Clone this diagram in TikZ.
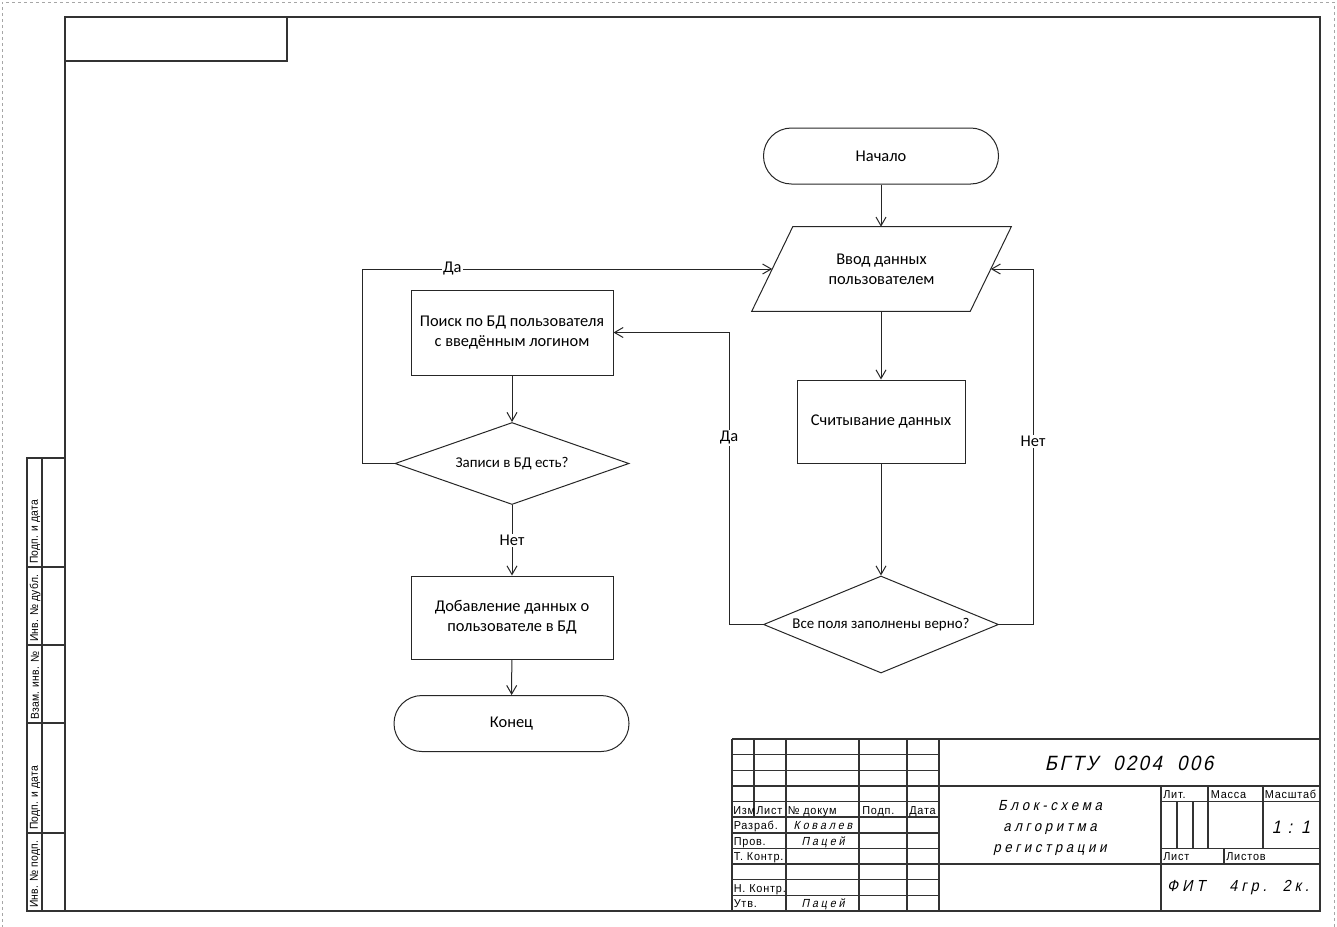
\documentclass[tikz,border=0pt]{standalone}
\usepackage{fontspec}
\setmainfont{Carlito}
% drafting fonts for the title block and the binding strip
\newfontfamily\gostfont[FakeStretch=0.95,LetterSpace=7]{Liberation Sans}
\newfontfamily\goststrip[FakeStretch=0.9,LetterSpace=2]{Liberation Sans}
\newfontfamily\gostital[FakeStretch=0.9,FakeSlant=0.22,LetterSpace=25]{Liberation Sans}
\newfontfamily\gostwide[FakeStretch=0.9,FakeSlant=0.22,LetterSpace=12]{Liberation Sans}
\usetikzlibrary{shapes.geometric,arrows.meta,calc}

\tikzset{
  sheet/.style={draw=black!35, line width=0.5pt, dash pattern=on 2.5pt off 2pt},
  frame/.style={draw=black!80, line width=1.3pt},
  grid/.style={draw=black!80, line width=1.1pt},
  line/.style={draw=black!85, line width=0.75pt},
  arr/.style={line, -{Straight Barb[length=6.5pt,width=7.5pt]}},
  fc/.style={font=\fontsize{12.3}{15}\selectfont, align=center, text=black},
  term/.style={fc, line, rectangle, rounded corners=20.9pt,
    minimum width=235*0.75pt, minimum height=56*0.75pt},
  proc/.style={fc, line, rectangle, inner sep=0pt},
  % body of the input block; its slanted outline is drawn from the anchors
  iobody/.style={fc, rectangle, inner sep=0pt, minimum width=218*0.75pt, minimum height=84*0.75pt},
  decision/.style={line, diamond, aspect=2.4, inner sep=0pt, align=center,
    font=\fontsize{11.2}{12}\selectfont},
  lbl/.style={fill=white, inner sep=1pt, font=\fontsize{12.3}{14}\selectfont},
  tb/.style={inner sep=0pt, font=\gostfont\fontsize{8.6}{10}\selectfont},
  strip/.style={inner sep=0pt, rotate=90, anchor=west, font=\goststrip\fontsize{8.6}{10}\selectfont},
  tbi/.style={inner sep=0pt, font=\gostital\fontsize{8.8}{10}\selectfont},
}

\begin{document}
\begin{tikzpicture}[x=0.75pt,y=-0.75pt]
\useasboundingbox (0,0) rectangle (1337,926);

% trimmed sheet edge
\draw[sheet] (2,940) -- (2,2) -- (1334,2) -- (1334,940);

% drawing frame and top-left stamp box
\draw[frame] (65,17) rectangle (1320,911);
\draw[frame] (65,61) -- (287,61) -- (287,17);

% binding strip on the left
\draw[grid] (65,458) -- (27,458) -- (27,911) -- (65,911);
\draw[grid] (42,458) -- (42,911);
\foreach \yy in {567,645,723,833} \draw[grid] (27,\yy) -- (65,\yy);
\node[strip] (s1) at (35,564) {Подп. и дата};
\node[strip] (s2) at (35,642) {Инв. № дубл.};
\node[strip] (s3) at (35,720) {Взам. инв. №};
\node[strip] (s4) at (35,830) {Подп. и дата};
\node[strip] (s5) at (35,908) {Инв. № подп.};

% ---------------- flowchart ----------------
\node[term] (start) at (881,156) {Начало};
\node[iobody] (input) at (881.5,269) {Ввод данных\\пользователем};
\draw[line] ([xshift=-20.5*0.75pt]input.south west) -- ([xshift=20.5*0.75pt]input.north west)
  -- ([xshift=20.5*0.75pt]input.north east) -- ([xshift=-20.5*0.75pt]input.south east) -- cycle;
\node[proc, minimum width=168*0.75pt, minimum height=83*0.75pt] (read) at (881,421.5) {Считывание данных};
\node[decision, minimum width=235*0.75pt, minimum height=97*0.75pt] (valid) at (881,624.5) {Все поля заполнены верно?};

\node[proc, minimum width=202*0.75pt, minimum height=85*0.75pt] (search) at (512,332.5) {Поиск по БД пользователя\\с введённым логином};
\node[decision, minimum width=234*0.75pt, minimum height=82*0.75pt] (exists) at (512,463.5) {Записи в БД есть?};
\node[proc, minimum width=202*0.75pt, minimum height=83*0.75pt] (add) at (512,617.5) {Добавление данных о\\пользователе в БД};
\node[term] (stop) at (511.5,723.5) {Конец};

\coordinate (yesR) at (729,624.5);
\coordinate (noR) at (1033,624.5);
\coordinate (yesL) at (362,463.5);

\draw[arr] (start.south) -- (start.south |- input.north);
\draw[arr] (read.north |- input.south) -- (read.north);
\draw[arr] (read) -- (valid);
\draw[arr] (valid.west) -- (yesR) |- node[lbl, pos=0.32] (lYesR) {Да} (search.east);
\draw[arr] (valid.east) -- (noR) |- node[lbl, pos=0.257] (lNoR) {Нет} (input.east);
\draw[arr] (search) -- (exists);
\draw[arr] (exists.west) -- (yesL) |- node[lbl, pos=0.61] (lYesL) {Да} (input.west);
\draw[arr] (exists) -- node[lbl] (lNoL) {Нет} (add);
\draw[arr] (add) -- (stop);

% ---------------- title block ----------------
\draw[grid] (732,739) -- (1320,739);
\draw[grid] (732,739) -- (732,911);
% left part
\draw[grid] (754,739) -- (754,817);
\foreach \xx in {786,859,907,939} \draw[grid] (\xx,739) -- (\xx,911);
\foreach \yy in {754.6,770.3,785.9,801.5,817.2,832.8,848.5,864.1,879.7,895.4} \draw[grid] (732,\yy) -- (939,\yy);
% right part
\draw[grid] (939,785.9) -- (1320,785.9);
\draw[grid] (939,864.1) -- (1320,864.1);
\draw[grid] (1161,785.9) -- (1161,911);
\draw[grid] (1161,801.5) -- (1320,801.5);
\draw[grid] (1161,848.5) -- (1320,848.5);
\draw[grid] (1177,801.5) -- (1177,848.5);
\draw[grid] (1193,801.5) -- (1193,848.5);
\draw[grid] (1208,785.9) -- (1208,848.5);
\draw[grid] (1263,785.9) -- (1263,848.5);
\draw[grid] (1224,848.5) -- (1224,864.1);

% column captions
\node[tb, anchor=base west] (cIzm) at (733,814) {Изм};
\node[tb, anchor=base west] (cList) at (756,814) {Лист};
\node[tb, anchor=base west] (cDoc) at (787.5,814) {№ докум};
\node[tb, anchor=base west] (cSign) at (862,814) {Подп.};
\node[tb, anchor=base west] (cDate) at (909,814) {Дата};
% row captions
\node[tb, anchor=base west] (rDev) at (733.5,829.5) {Разраб.};
\node[tb, anchor=base west] (rChk) at (733.5,845) {Пров.};
\node[tb, anchor=base west] (rTc) at (733.5,860.5) {Т. Контр.};
\node[tb, anchor=base west] (rNc) at (733.5,892) {Н. Контр.};
\node[tb, anchor=base west] (rApp) at (733.5,907.5) {Утв.};
% names
\node[tbi, anchor=base] (nDev) at (823,829.5) {Ковалев};
\node[tbi, anchor=base] (nChk) at (823,845) {Пацей};
\node[tbi, anchor=base] (nApp) at (823,907.5) {Пацей};

% document designation and title
\node[inner sep=0pt, font=\gostwide\fontsize{15.5}{18}\selectfont] (code) at (1129,763) {БГТУ\ \ 0204\ \ 006};
\node[inner sep=0pt, align=center, font=\gostital\fontsize{11}{15.5}\selectfont] (title) at (1050,828) {Блок-схема\\алгоритма\\регистрации};

% right cells
\node[tb, anchor=base west] (cLit) at (1163,798.5) {Лит.};
\node[tb, anchor=base west] (cMass) at (1210.5,798.5) {Масса};
\node[tb, anchor=base west] (cScale) at (1264.5,798.5) {Масштаб};
\node[inner sep=0pt, font=\gostwide\fontsize{13.5}{15}\selectfont] (scale) at (1291,827) {1 : 1};
\node[tb, anchor=base west] (cSheet) at (1163,860.5) {Лист};
\node[tb, anchor=base west] (cSheets) at (1226,860.5) {Листов};
\node[inner sep=0pt, font=\gostital\fontsize{12}{13}\selectfont] (org) at (1238,887.5) {ФИТ\ \ \ 4гр.\ \ 2к.};
\end{tikzpicture}
\end{document}
